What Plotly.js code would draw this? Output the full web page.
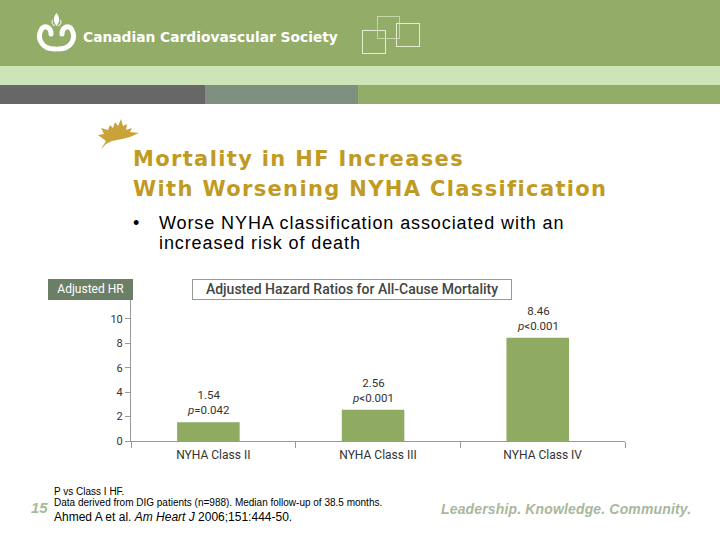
<!DOCTYPE html>
<html>
<head>
<meta charset="utf-8">
<script src="https://cdn.plot.ly/plotly-3.0.1.min.js"></script>
<style>
  html, body { margin: 0; padding: 0; background: #fff; }
  #slide { position: relative; width: 720px; height: 540px; overflow: hidden; font-family: "Liberation Sans", Arial, sans-serif; }
  .abs { position: absolute; white-space: nowrap; }
  #chart { position: absolute; left: 0; top: 0; width: 720px; height: 540px; }
</style>
</head>
<body>
<div id="slide">
  <!-- header bands -->
  <div class="abs" style="left:0;top:0;width:720px;height:66px;background:#93ad68;"></div>
  <div class="abs" style="left:0;top:66px;width:720px;height:19px;background:#cde5b6;"></div>
  <div class="abs" style="left:0;top:85px;width:205px;height:19px;background:#676767;"></div>
  <div class="abs" style="left:205px;top:85px;width:153px;height:19px;background:#7f8f80;"></div>
  <div class="abs" style="left:358px;top:85px;width:362px;height:19px;background:#93ad68;"></div>
  <svg class="abs" style="left:0;top:0;" width="720" height="110">
    <!-- logo -->
    <path d="M51 34 C51 27 44 24 41 30 C37 38 41 49 55 49" fill="none" stroke="#fff" stroke-width="5" stroke-linecap="round"/>
    <path d="M62 34 C62 27 69 24 72 30 C76 38 72 49 58 49" fill="none" stroke="#fff" stroke-width="5" stroke-linecap="round"/>
    <path d="M56.5 13 C53 17 53 22 56.5 26 C60 22 60 17 56.5 13 Z" fill="#fff"/>
    <path d="M53 20 C51 22 52 25 55 26 M60 20 C62 22 61 25 58 26" fill="none" stroke="#e8f0dc" stroke-width="1.2"/>
    <!-- squares -->
    <rect x="362.5" y="30.5" width="23" height="23" fill="none" stroke="#e3edcf" stroke-width="1"/>
    <rect x="377.5" y="16.5" width="22" height="22" fill="none" stroke="#c6d6aa" stroke-width="1"/>
    <rect x="396.5" y="23.5" width="23" height="23" fill="none" stroke="#e3edcf" stroke-width="1"/>
  </svg>
  <div class="abs" style="left:83px;top:29px;font-family:'DejaVu Sans';font-weight:bold;font-size:13.8px;color:#fff;">Canadian Cardiovascular Society</div>
  <svg class="abs" style="left:96px;top:118px;" width="50" height="40">
    <path d="M5 31 L10 23 L2 17 L8 16 L5 10 L12 12 L14 7 L17 10 L19 4 L22 8 L25 1 L27 8 L31 6 L30 12 L36 10 L34 14 L43 15 L34 19 L26 21 L16 23 L10 26 Z" fill="#c9a23a"/>
  </svg>
  <div class="abs" style="left:133px;top:144px;font-family:'DejaVu Sans';font-weight:bold;font-size:21px;line-height:30px;letter-spacing:1.35px;color:#c09a22;">Mortality in HF Increases<br>With Worsening NYHA Classification</div>
  <div class="abs" style="left:133px;top:213px;font-size:18px;line-height:20px;color:#000;">•</div>
  <div class="abs" style="left:159px;top:213px;font-size:18px;line-height:20px;letter-spacing:0.9px;color:#000;">Worse NYHA classification associated with an<br>increased risk of death</div>

  <!-- chart header boxes -->
  <div class="abs" style="left:48px;top:279px;width:85px;height:21px;background:#6b7f66;color:#fff;font-family:Roboto;font-size:12px;line-height:21px;text-align:center;">Adjusted HR</div>
  <div class="abs" style="left:192px;top:279px;width:318px;height:19px;border:1px solid #999;background:#fff;color:#444;font-family:Roboto;font-weight:500;font-size:14px;line-height:19px;text-align:center;">Adjusted Hazard Ratios for All-Cause Mortality</div>

  <div id="chart"></div>

  <!-- footer -->
  <div class="abs" style="left:31px;top:499px;font-size:15px;font-style:italic;font-weight:bold;color:#a8b89a;">15</div>
  <div class="abs" style="left:54px;top:486px;font-size:10px;color:#000;">P vs Class I HF.</div>
  <div class="abs" style="left:54px;top:497px;font-size:10px;color:#000;">Data derived from DIG patients (n=988). Median follow-up of 38.5 months.</div>
  <div class="abs" style="left:54px;top:510px;font-size:12px;color:#000;">Ahmed A et al. <i>Am Heart J</i> 2006;151:444-50.</div>
  <div class="abs" style="left:441px;top:501px;font-size:14px;font-style:italic;font-weight:bold;letter-spacing:0.15px;color:#a8b89a;">Leadership. Knowledge. Community.</div>
</div>
<script>
const categories = ["NYHA Class II", "NYHA Class III", "NYHA Class IV"];
const hrValues = [1.54, 2.56, 8.46];
const pLabels = ["<i>p</i>=0.042", "<i>p</i><0.001", "<i>p</i><0.001"];
const yTicks = [0, 2, 4, 6, 8, 10];

const trace = {
  type: "bar",
  x: categories,
  y: hrValues,
  width: 0.38,
  offset: -0.22,
  marker: { color: "#8fab62" },
  hoverinfo: "skip"
};

const annotations = categories.map((c, i) => ({
  x: c, y: hrValues[i], xref: "x", yref: "y",
  text: hrValues[i].toFixed(2) + "<br>" + pLabels[i],
  showarrow: false, yanchor: "bottom", yshift: 3, xshift: -5,
  font: { family: "Roboto", size: 11.5, color: "#333" }
}));

const layout = {
  width: 720, height: 540,
  margin: { l: 131, r: 95, t: 300, b: 99 },
  paper_bgcolor: "rgba(0,0,0,0)",
  plot_bgcolor: "rgba(0,0,0,0)",
  showlegend: false,
  xaxis: {
    type: "category",
    showline: true, linecolor: "#999", linewidth: 1,
    ticks: "outside", tickson: "boundaries", ticklen: 6, tickcolor: "#999",
    ticklabelstandoff: 3,
    tickfont: { family: "Roboto", size: 12, color: "#333" },
    showgrid: false, zeroline: false, fixedrange: true
  },
  yaxis: {
    range: [0, 11.55],
    tickvals: yTicks,
    showline: true, linecolor: "#999", linewidth: 1,
    ticks: "outside", ticklen: 5, tickcolor: "#999",
    tickfont: { family: "Roboto", size: 11, color: "#333" },
    showgrid: false, zeroline: false, fixedrange: true
  },
  annotations: annotations
};

Plotly.newPlot("chart", [trace], layout, { displayModeBar: false, staticPlot: true });
</script>
</body>
</html>
